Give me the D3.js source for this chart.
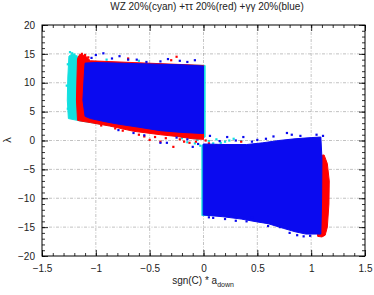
<!DOCTYPE html>
<html>
<head>
<meta charset="utf-8">
<script src="https://cdn.jsdelivr.net/npm/d3@7"></script>
<style>
  body { margin: 0; background: #fff; }
  svg text { font-family: "Liberation Sans", Arial, sans-serif; fill: #222; }
</style>
</head>
<body>
<svg id="chart" width="374" height="295"></svg>
<script>
// tick values
const xTicks = [-1.5, -1, -0.5, 0, 0.5, 1, 1.5];
const yTicks = [-20, -15, -10, -5, 0, 5, 10, 15, 20];
const xGrid = [-1, -0.5, 0, 0.5, 1];
const yGrid = [-15, -10, -5, 0, 5, 10, 15];

// outlines of the dense point clouds, [x, lambda]
const cyanLeft = [[-1.255, 3.8], [-1.265, 7], [-1.26, 11], [-1.25, 14.6], [-1.22, 15.0], [-1.17, 14.6], [-1.1, 13.6],
  [0.015, 13.0], [0.015, 0.6], [-0.05, 0.2], [-1.15, 3.4]];
const redLeft = [[-1.17, 3.5], [-1.18, 7], [-1.175, 11], [-1.17, 14.2], [-1.15, 14.9], [-1.1, 14.7], [-1.05, 13.8],
  [0, 13.0], [0, 0.2], [-0.1, 0.3], [-0.25, 0.7], [-0.4, 1.0], [-0.65, 1.6], [-0.87, 2.5], [-1.05, 3.1], [-1.15, 3.4]];
const blueLeft = [[-1.1, 4.2], [-1.12, 7], [-1.11, 10.5], [-1.1, 13.4], [-1.0, 13.5], [-0.8, 13.4], [-0.6, 13.3],
  [-0.4, 13.2], [-0.2, 13.1], [0, 12.9], [0, 1.2], [-0.2, 1.4], [-0.4, 1.7], [-0.6, 2.3], [-0.78, 2.8],
  [-0.9, 3.2], [-1.05, 3.8]];

const cyanRight = [[-0.015, -0.8], [0.1, -0.8], [0.1, -13.0], [-0.015, -13.0]];
const redRight = [[1.05, -2.7], [1.12, -2.5], [1.15, -4], [1.168, -7], [1.165, -11], [1.15, -15], [1.13, -16.4],
  [1.1, -16.7], [1.06, -16.6], [1.05, -10]];
const blueRight = [[-0.003, -0.6], [0.2, -0.7], [0.4, -0.7], [0.55, -0.4], [0.7, 0.0], [0.85, 0.3], [1.0, 0.5],
  [1.09, 0.6], [1.1, -3], [1.097, -10], [1.09, -16.2], [0.95, -16.2], [0.85, -15.8], [0.74, -15.2],
  [0.6, -14.4], [0.5, -14.1], [0.35, -13.6], [0.18, -13.2], [-0.003, -12.9]];

// scattered points outside the dense clouds
const cyanStray = [[-1.24, 15.3], [-1.22, 15.1], [-1.2, 14.9], [-1.26, 13.2], [-1.27, 9.5], [-1.26, 5.5],
  [-0.08, -0.5], [-0.03, -0.9], [-0.15, -0.3], [-0.06, 0.1], [-0.2, 0.4], [0.05, -0.1], [0.12, 0.2],
  [0.2, -0.2], [0.28, 0.3], [0.35, -0.1], [0.16, -0.4], [0.09, -0.5], [0.24, 0.0], [-0.9, 14.0], [-0.6, 13.8]];
const redStray = [[-1.13, 15.0], [-1.1, 14.8], [-1.07, 14.4], [-0.25, 14.5], [-0.5, 0.1], [-0.22, 0.2],
  [-0.13, -0.4], [-0.28, -1.1], [-0.35, 0.4], [-0.6, 1.0], [-0.75, 1.7], [0.08, -1.3], [0.25, -1.1],
  [0.68, -0.8], [0.02, 0.0], [0.12, -0.8], [-0.45, 0.6], [-0.18, -0.2], [-0.07, -0.2], [-0.95, 2.6],
  [-0.82, 2.1], [-0.55, 0.7], [-0.4, -0.2], [-0.3, 13.9], [-0.7, 14.2], [0.35, -0.2], [0.05, -0.5]];
const blueStray = [[-0.93, 15.1], [-0.78, 14.6], [-1.0, 14.8], [-0.53, 13.6], [-0.08, 13.9], [-0.7, 14.0],
  [-0.4, 13.7], [-0.15, 13.6], [-0.85, 14.2], [-0.62, 14.0], [-0.33, 14.1], [-0.22, 13.8], [-1.04, 14.3],
  [-0.79, 1.8], [-0.4, -0.4], [-0.34, -0.4], [-0.1, -1.1], [-0.05, -0.6], [-0.55, 0.9], [-0.25, 0.5],
  [-0.65, 1.3], [-0.15, 0.2], [0.775, 1.3], [0.37, 0.6], [0.22, 0.6], [0.9, 0.8], [0.06, 0.8], [1.11, 0.8],
  [0.5, 0.1], [0.65, 0.7], [0.3, 0.0], [0.15, -0.1], [0.45, -0.2], [0.82, 1.0], [1.05, 1.0], [0.58, 0.3],
  [0.09, -13.4], [0.45, -13.4], [0.71, -15.0], [0.87, -16.4], [0.99, -16.5], [0.3, -13.9], [0.6, -14.8],
  [0.2, -13.6], [0.05, -13.3], [0.4, -14.0], [0.8, -16.0], [0.93, -16.6]];

const titleText = "WZ 20%(cyan) +\u03c4\u03c4 20%(red) +\u03b3\u03b3 20%(blue)";
const cyanC = "#12e0e0", redC = "#f00", blueC = "#0a0af0";

const svg = d3.select("#chart");
const x = d3.scaleLinear().domain([-1.5, 1.5]).range([42, 365]);
const y = d3.scaleLinear().domain([-20, 20]).range([256, 25]);

// grid
svg.append("g").selectAll("line").data(xGrid).join("line")
  .attr("x1", d => x(d)).attr("x2", d => x(d)).attr("y1", y(20)).attr("y2", y(-20))
  .attr("stroke", "#999").attr("stroke-width", 0.6).attr("stroke-dasharray", "3,1.5,1,1.5");
svg.append("g").selectAll("line").data(yGrid).join("line")
  .attr("y1", d => y(d)).attr("y2", d => y(d)).attr("x1", x(-1.5)).attr("x2", x(1.5))
  .attr("stroke", "#999").attr("stroke-width", 0.6).attr("stroke-dasharray", "3,1.5,1,1.5");

// clouds
const line = d3.line().x(d => x(d[0])).y(d => y(d[1]));
function cloud(pts, c) {
  svg.append("path").attr("d", line(pts) + "Z")
    .attr("fill", c).attr("stroke", c).attr("stroke-width", 1)
    .attr("stroke-linejoin", "round");
}
function stray(pts, c) {
  svg.append("g").selectAll("rect").data(pts).join("rect")
    .attr("x", d => x(d[0]) - 1.1).attr("y", d => y(d[1]) - 1.1)
    .attr("width", 2.2).attr("height", 2.2).attr("fill", c);
}
cloud(cyanLeft, cyanC); cloud(cyanRight, cyanC);
stray(cyanStray, cyanC);
cloud(redLeft, redC); cloud(redRight, redC);
stray(redStray, redC);
cloud(blueLeft, blueC); cloud(blueRight, blueC);
stray(blueStray, blueC);

// axes with inward ticks on all sides
function axes() {
  const g = svg.append("g");
  const minorX = d3.range(-15, 16).map(d => d / 10);
  const minorY = d3.range(-20, 21);
  g.append("g").attr("transform", `translate(0,${y(-20)})`)
    .call(d3.axisBottom(x).tickValues(minorX).tickSizeInner(-3).tickSizeOuter(0).tickFormat(""));
  g.append("g").attr("transform", `translate(0,${y(-20)})`)
    .call(d3.axisBottom(x).tickValues(xTicks).tickSizeInner(-6).tickSizeOuter(0).tickPadding(9)
      .tickFormat(d3.format("")));
  g.append("g").attr("transform", `translate(0,${y(20)})`)
    .call(d3.axisTop(x).tickValues(minorX).tickSizeInner(-3).tickSizeOuter(0).tickFormat(""));
  g.append("g").attr("transform", `translate(0,${y(20)})`)
    .call(d3.axisTop(x).tickValues(xTicks).tickSizeInner(-6).tickSizeOuter(0).tickFormat(""));
  g.append("g").attr("transform", `translate(${x(-1.5)},0)`)
    .call(d3.axisLeft(y).tickValues(minorY).tickSizeInner(-3).tickSizeOuter(0).tickFormat(""));
  g.append("g").attr("transform", `translate(${x(-1.5)},0)`)
    .call(d3.axisLeft(y).tickValues(yTicks).tickSizeInner(-6).tickSizeOuter(0).tickPadding(7));
  g.append("g").attr("transform", `translate(${x(1.5)},0)`)
    .call(d3.axisRight(y).tickValues(minorY).tickSizeInner(-3).tickSizeOuter(0).tickFormat(""));
  g.append("g").attr("transform", `translate(${x(1.5)},0)`)
    .call(d3.axisRight(y).tickValues(yTicks).tickSizeInner(-6).tickSizeOuter(0).tickFormat(""));
  g.selectAll(".domain").remove();
  g.selectAll("line").attr("stroke", "#000").attr("stroke-width", 0.8);
  g.selectAll("text").attr("font-size", 10).style("font-family", "Liberation Sans, Arial, sans-serif").attr("fill", "#222");
}
axes();

svg.append("rect").attr("x", x(-1.5)).attr("y", y(20))
  .attr("width", x(1.5) - x(-1.5)).attr("height", y(-20) - y(20))
  .attr("fill", "none").attr("stroke", "#000").attr("stroke-width", 1);

// labels
svg.append("text").attr("x", 207).attr("y", 10).attr("text-anchor", "middle")
  .attr("font-size", 10).text(titleText);
const xl = svg.append("text").attr("x", 203).attr("y", 284).attr("text-anchor", "middle").attr("font-size", 10);
xl.append("tspan").text("sgn(C) * a");
xl.append("tspan").attr("font-size", 7).attr("dy", 2.5).text("down");
svg.append("text").attr("transform", "translate(11,140) rotate(-90)").attr("text-anchor", "middle")
  .attr("font-size", 11).text("\u03bb");
</script>
</body>
</html>
